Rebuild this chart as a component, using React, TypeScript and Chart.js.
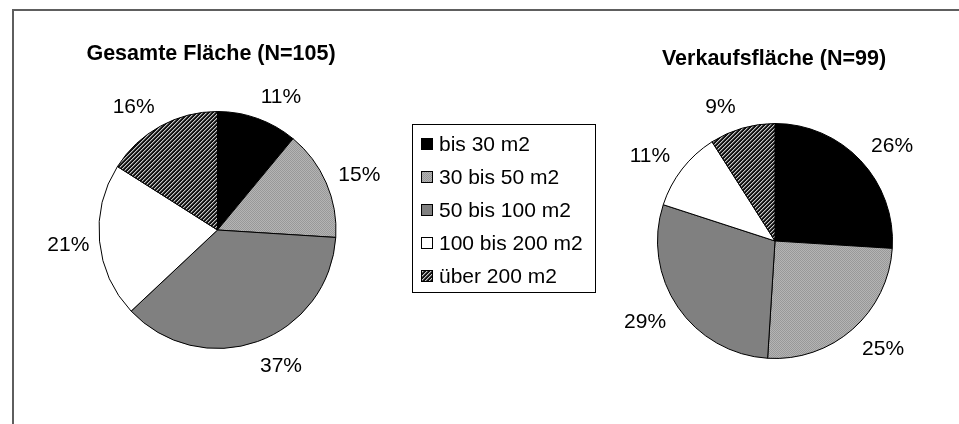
import React, { useEffect, useRef } from "react";
import { Chart, registerables } from "chart.js";

Chart.register(...registerables);

// ---- data ----
const categories = ["bis 30 m2", "30 bis 50 m2", "50 bis 100 m2", "100 bis 200 m2", "über 200 m2"];
const gesamtValues = [11, 15, 37, 21, 16];
const verkaufValues = [26, 25, 29, 11, 9];
const gesamtTitle = "Gesamte Fläche (N=105)";
const verkaufTitle = "Verkaufsfläche (N=99)";

const FONT = '"Liberation Sans", Arial, Helvetica, sans-serif';
const W = 959;
const H = 424;

function makeTile(kind: string): HTMLCanvasElement {
  const c = document.createElement("canvas");
  c.width = 4;
  c.height = 4;
  const ctx = c.getContext("2d")!;
  for (let y = 0; y < 4; y++) {
    for (let x = 0; x < 4; x++) {
      let col: string;
      if (kind === "dots") {
        col = (x + y) % 2 === 0 ? "#989898" : "#b4b4b4";
      } else {
        const k = (((x + y) % 4) + 4) % 4;
        col = k < 2 ? "#111111" : k === 2 ? "#c8c8c8" : "#5a5a5a";
      }
      ctx.fillStyle = col;
      ctx.fillRect(x, y, 1, 1);
    }
  }
  return c;
}

function makeFills(ctx: CanvasRenderingContext2D): (string | CanvasPattern)[] {
  const dots = ctx.createPattern(makeTile("dots"), "repeat")!;
  const hatch = ctx.createPattern(makeTile("hatch"), "repeat")!;
  return ["#000000", dots, "#808080", "#ffffff", hatch];
}

const outLabels = {
  id: "outLabels",
  afterDraw(chart: any, _args: any, opts: any) {
    const ctx: CanvasRenderingContext2D = chart.ctx;
    const meta = chart.getDatasetMeta(0);
    const vals = chart.data.datasets[0].data as number[];
    ctx.save();
    ctx.fillStyle = "#000";
    ctx.textAlign = "center";
    ctx.textBaseline = "alphabetic";
    const fs = 21;
    ctx.font = `${fs}px ${FONT}`;
    let cx = 0;
    let cy = 0;
    meta.data.forEach((arc: any, i: number) => {
      const p = arc.getProps(["x", "y", "startAngle", "endAngle", "outerRadius"], true);
      cx = p.x;
      cy = p.y;
      const mid = (p.startAngle + p.endAngle) / 2;
      const ux = Math.cos(mid);
      const uy = Math.sin(mid);
      const lx = p.x + (p.outerRadius + 30) * ux + 14 * Math.abs(uy) * Math.sign(ux);
      const ly = p.y + (p.outerRadius + 24) * uy;
      ctx.fillText(`${vals[i]}%`, lx, ly + 0.358 * fs);
    });
    const tfs = 21.5;
    ctx.font = `bold ${tfs}px ${FONT}`;
    ctx.fillText(opts.text, cx + opts.dx, cy + opts.dy + 0.358 * tfs);
    ctx.restore();
  },
};

function makePie(
  canvas: HTMLCanvasElement,
  values: number[],
  radius: number,
  padding: { left: number; right: number; top: number; bottom: number },
  title: string,
  dx: number,
  dy: number
) {
  const ctx = canvas.getContext("2d")!;
  return new Chart(canvas, {
    type: "pie",
    data: {
      labels: categories,
      datasets: [
        {
          data: values,
          backgroundColor: makeFills(ctx) as any,
          borderColor: "#000",
          borderWidth: 1,
          radius: radius,
        } as any,
      ],
    },
    options: {
      animation: false,
      responsive: false,
      events: [],
      devicePixelRatio: 1,
      layout: { padding },
      plugins: {
        legend: { display: false },
        title: { display: false },
        tooltip: { enabled: false },
        outLabels: { text: title, dx, dy },
      } as any,
    },
    plugins: [outLabels],
  });
}

export default function App() {
  const leftRef = useRef<HTMLCanvasElement>(null);
  const rightRef = useRef<HTMLCanvasElement>(null);
  const swatchRefs = useRef<(HTMLCanvasElement | null)[]>([]);

  useEffect(() => {
    const c1 = makePie(leftRef.current!, gesamtValues, 118.5, { left: 0, right: 524, top: 36, bottom: 0 }, gesamtTitle, -6.5, -178);
    const c2 = makePie(rightRef.current!, verkaufValues, 117.5, { left: 591, right: 0, top: 58, bottom: 0 }, verkaufTitle, -1, -184);
    swatchRefs.current.forEach((sw) => {
      if (!sw) return;
      const i = Number(sw.dataset.idx);
      const ctx = sw.getContext("2d")!;
      const fills = makeFills(ctx);
      ctx.fillStyle = fills[i] as any;
      ctx.fillRect(0, 0, 12, 12);
      ctx.strokeStyle = "#000";
      ctx.lineWidth = 1;
      ctx.strokeRect(0.5, 0.5, 11, 11);
    });
    return () => {
      c1.destroy();
      c2.destroy();
    };
  }, []);

  return (
    <div
      style={{
        position: "absolute",
        left: 0,
        top: 0,
        width: W,
        height: H,
        overflow: "hidden",
        background: "#fff",
      }}
    >
      <div
        style={{
          position: "absolute",
          left: 12,
          top: 9,
          width: 2000,
          height: 2000,
          border: "2px solid #5e5e5e",
          boxSizing: "border-box",
        }}
      />
      <canvas ref={leftRef} width={W} height={H} style={{ position: "absolute", left: 0, top: 0, width: W, height: H }} />
      <canvas ref={rightRef} width={W} height={H} style={{ position: "absolute", left: 0, top: 0, width: W, height: H }} />
      <div
        style={{
          position: "absolute",
          left: 412,
          top: 124,
          width: 184,
          height: 169,
          border: "1px solid #000",
          boxSizing: "border-box",
          background: "#fff",
        }}
      >
        {categories.map((c, i) => (
          <div
            key={c}
            style={{
              position: "absolute",
              left: 8,
              top: 6.5 + i * 33.1,
              height: 24,
              display: "flex",
              alignItems: "center",
              whiteSpace: "nowrap",
            }}
          >
            <canvas
              ref={(el) => {
                swatchRefs.current[i] = el;
              }}
              data-idx={i}
              width={12}
              height={12}
              style={{ width: 12, height: 12, display: "block" }}
            />
            <span style={{ marginLeft: 6, font: `21px ${FONT}`, lineHeight: "24px", color: "#000" }}>{c}</span>
          </div>
        ))}
      </div>
    </div>
  );
}
